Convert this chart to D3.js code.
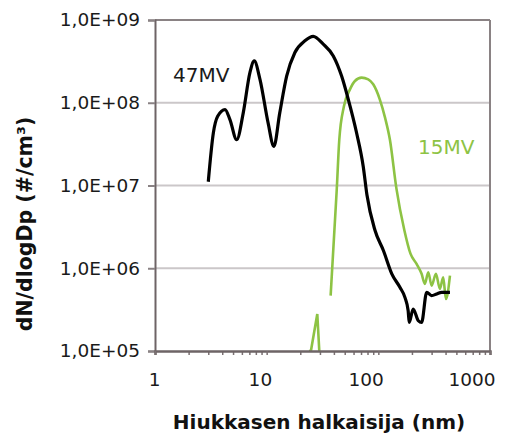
<!DOCTYPE html>
<html><head><meta charset="utf-8">
<script src="https://cdn.jsdelivr.net/npm/d3@7"></script>
<style>
body{margin:0;background:#fff;}
svg{display:block;font-family:"DejaVu Sans",sans-serif;}
</style></head>
<body>
<svg id="c" width="509" height="438"></svg>
<script>
// ---- data ----
const diam47 = [3.00,3.33,3.64,4.24,4.69,5.39,6.17,7.08,7.74,8.71,10.3,11.6,13.1,15.1,17.9,22.0,26.1,32.1,39.5,46.9,53.8,63.9,73.3,79.1,93.3,111,132,156,173,185,189,205,228,244,271,300,333,369,438];
const dens47 = [1.11e7,4.31e7,6.86e7,8.28e7,6.25e7,3.57e7,7.55e7,2.31e8,3.20e8,1.92e8,5.70e7,2.97e7,7.55e7,2.10e8,4.05e8,5.60e8,6.34e8,5.11e8,3.68e8,2.10e8,1.10e8,4.31e7,1.69e7,7.66e6,2.88e6,1.64e6,8.57e5,5.89e5,4.45e5,3.06e5,2.21e5,3.21e5,2.32e5,2.21e5,5.12e5,4.67e5,4.89e5,5.12e5,5.12e5];
const diam15 = [37.4,42.4,44.7,49.2,55.7,61.7,70.8,81.2,90.0,103,115,127,145,171,194,220,244,261,280,300,328,356,381,403,438];
const dens15 = [4.67e5,8.82e6,3.57e7,9.08e7,1.45e8,1.83e8,2.01e8,1.92e8,1.67e8,1.10e8,6.56e7,3.57e7,9.3e6,2.88e6,1.50e6,1.13e6,8.57e5,6.47e5,8.96e5,6.17e5,8.57e5,5.62e5,7.79e5,4.25e5,8.16e5];
const spikeDiam15 = [23.9,24.9,28.4,29.6,30.0];
const spikeDens15 = [1e5,1e5,2.8e5,1e5,1e5];
const yTicks = [1e5,1e6,1e7,1e8,1e9];
const yTickLabels = ["1,0E+05","1,0E+06","1,0E+07","1,0E+08","1,0E+09"];
const xTicks = [1,10,100,1000];
const xTickLabels = ["1","10","100","1000"];
const seriesNames = ["47MV","15MV"];
const xTitle = "Hiukkasen halkaisija (nm)";
const yTitle = "dN/dlogDp (#/cm³)";

// ---- layout ----
const L=155,R=490,T=20,B=351;
const svg=d3.select("#c");
const x=d3.scaleLog().domain([1,1000]).range([L,R]);
const y=d3.scaleLog().domain([1e5,1e9]).range([B,T]);

// gridlines
svg.append("g").selectAll("line").data(yTicks.slice(1,4)).join("line")
  .attr("x1",L).attr("x2",R).attr("y1",d=>y(d)).attr("y2",d=>y(d))
  .attr("stroke","#cbc7c9").attr("stroke-width",2);

// frame top & right
svg.append("line").attr("x1",L).attr("x2",R).attr("y1",T).attr("y2",T).attr("stroke","#8a8284").attr("stroke-width",2);
svg.append("line").attr("x1",R).attr("x2",R).attr("y1",T).attr("y2",B).attr("stroke","#8a8284").attr("stroke-width",2);

// clip
svg.append("clipPath").attr("id","pc").append("rect").attr("x",L).attr("y",T).attr("width",R-L).attr("height",B-T);

const line=d3.line().x(d=>x(d[0])).y(d=>y(d[1]));
const g=svg.append("g").attr("clip-path","url(#pc)");
g.append("path").datum(diam15.map((d,i)=>[d,dens15[i]]))
  .attr("d",line.curve(d3.curveMonotoneX)).attr("fill","none").attr("stroke","#8dc344").attr("stroke-width",2.6).attr("stroke-linejoin","round");
g.append("path").datum(spikeDiam15.map((d,i)=>[d,spikeDens15[i]]))
  .attr("d",line.curve(d3.curveLinear)).attr("fill","none").attr("stroke","#8dc344").attr("stroke-width",2.6);
g.append("path").datum(diam47.map((d,i)=>[d,dens47[i]]))
  .attr("d",line.curve(d3.curveMonotoneX)).attr("fill","none").attr("stroke","#000").attr("stroke-width",3.2).attr("stroke-linejoin","round");

// y axis
const ya=svg.append("g").attr("transform",`translate(${L},0)`)
  .call(d3.axisLeft(y).tickValues(yTicks).tickFormat((d,i)=>yTickLabels[i]).tickSize(7).tickPadding(8));
ya.select(".domain").attr("stroke","#6e6466").attr("stroke-width",2);
ya.selectAll(".tick line").attr("stroke","#8a8284").attr("stroke-width",2);
ya.selectAll("text").attr("font-size",18.5).attr("fill","#1a1a1a").attr("font-family","DejaVu Sans");

// x axis minor ticks
const minor=[];
[1,10,100].forEach(b=>{for(let k=2;k<=9;k++)minor.push(b*k);});
const xm=svg.append("g").attr("transform",`translate(0,${B})`)
  .call(d3.axisBottom(x).tickValues(minor).tickFormat("").tickSize(4));
xm.select(".domain").remove();
xm.selectAll(".tick line").attr("stroke","#7a7072").attr("stroke-width",1.5);

const xa=svg.append("g").attr("transform",`translate(0,${B})`)
  .call(d3.axisBottom(x).tickValues(xTicks).tickFormat((d,i)=>xTickLabels[i]).tickSize(4).tickPadding(18));
xa.select(".domain").attr("stroke","#6e6466").attr("stroke-width",2.5);
xa.selectAll(".tick line").attr("stroke","#7a7072").attr("stroke-width",1.5);
xa.selectAll("text").attr("font-size",18.5).attr("fill","#1a1a1a").attr("font-family","DejaVu Sans")
  .attr("text-anchor","end").attr("dx",5);

// titles
svg.append("text").attr("x",319).attr("y",429).attr("text-anchor","middle")
  .attr("font-size",20).attr("font-weight","bold").attr("fill","#111").text(xTitle);
svg.append("text").attr("transform","translate(32,224) rotate(-90)").attr("text-anchor","middle")
  .attr("font-size",20.5).attr("font-weight","bold").attr("fill","#111").text(yTitle);

// series labels
svg.append("text").attr("x",173).attr("y",82).attr("font-size",20).attr("fill","#1a1a1a").text(seriesNames[0]);
svg.append("text").attr("x",418).attr("y",153.5).attr("font-size",20).attr("fill","#8dc344").text(seriesNames[1]);
</script>
</body></html>
